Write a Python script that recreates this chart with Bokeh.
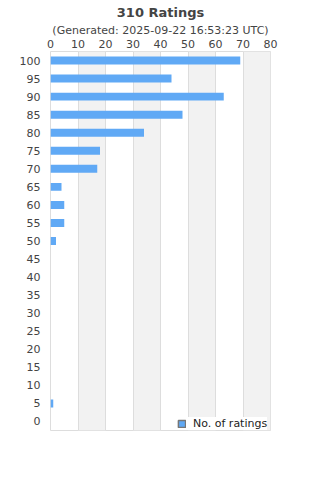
from bokeh.plotting import figure
from bokeh.models import FactorRange, Range1d, Title, Legend, LegendItem, FixedTicker, ColumnDataSource
from bokeh.embed import file_html
from bokeh.resources import INLINE

title_text = "310 Ratings"
subtitle_text = "(Generated: 2025-09-22 16:53:23 UTC)"
series_name = "No. of ratings"
ratings = [str(v) for v in range(0, 101, 5)]
counts = [0, 1, 0, 0, 0, 0, 0, 0, 0, 0, 2, 5, 5, 4, 17, 18, 34, 48, 63, 44, 69]
x_ticks = [0, 10, 20, 30, 40, 50, 60, 70, 80]

FONT = "DejaVu Sans"
BAR = "#60a9f5"

p = figure(width=320, height=480, output_backend="svg", toolbar_location=None,
           y_range=FactorRange(factors=ratings, range_padding=0),
           x_range=Range1d(0, 80), x_axis_location="above",
           min_border_left=50, min_border_right=50, min_border_top=51, min_border_bottom=50)
p.background_fill_color = "white"
p.border_fill_color = "white"
p.outline_line_color = "#dddddd"

src = ColumnDataSource(dict(y=ratings, right=counts))
p.hbar(y="y", right="right", left=0, height=0.44, source=src, fill_color=BAR, line_color=None)

# legend swatch only (not drawn in the plot itself)
swatch = p.hbar(y=["50"], left=[-500], right=[-400], height=0.5, fill_color=BAR,
                line_color="#777777", line_width=1.5, visible=False)

xa = p.xaxis[0]
xa.ticker = FixedTicker(ticks=x_ticks)
xa.major_tick_out = 0
xa.major_tick_in = 0
xa.minor_tick_out = 0
xa.minor_tick_in = 0
xa.axis_line_color = None
xa.major_label_standoff = 4
xa.major_label_text_font = FONT
xa.major_label_text_font_size = "11px"
xa.major_label_text_color = "#444444"

ya = p.yaxis[0]
ya.major_tick_out = 0
ya.major_tick_in = 0
ya.axis_line_color = None
ya.major_label_standoff = 10
ya.major_label_text_font = FONT
ya.major_label_text_font_size = "11px"
ya.major_label_text_color = "#444444"

p.ygrid.grid_line_color = None
p.xgrid.grid_line_color = "#dddddd"
p.xgrid.band_fill_color = "#f2f2f2"
p.xgrid.band_fill_alpha = 1

p.add_layout(Title(text=subtitle_text, align="center", text_font=FONT, text_font_size="11px",
                   text_font_style="normal", text_color="#444444", standoff=0, offset=0), "above")
p.add_layout(Title(text=title_text, align="center", text_font=FONT, text_font_size="13px",
                   text_font_style="bold", text_color="#444444", standoff=4, offset=0), "above")

legend = Legend(items=[LegendItem(label=series_name, renderers=[swatch])],
                location=(127, 0), padding=4, margin=0, spacing=0,
                glyph_width=9, glyph_height=9, label_standoff=7,
                label_text_font=FONT, label_text_font_size="11px", label_text_color="#222222",
                background_fill_color="white", background_fill_alpha=1,
                border_line_color=None)
p.add_layout(legend)

open("out.html", "w").write(file_html(p, INLINE))
